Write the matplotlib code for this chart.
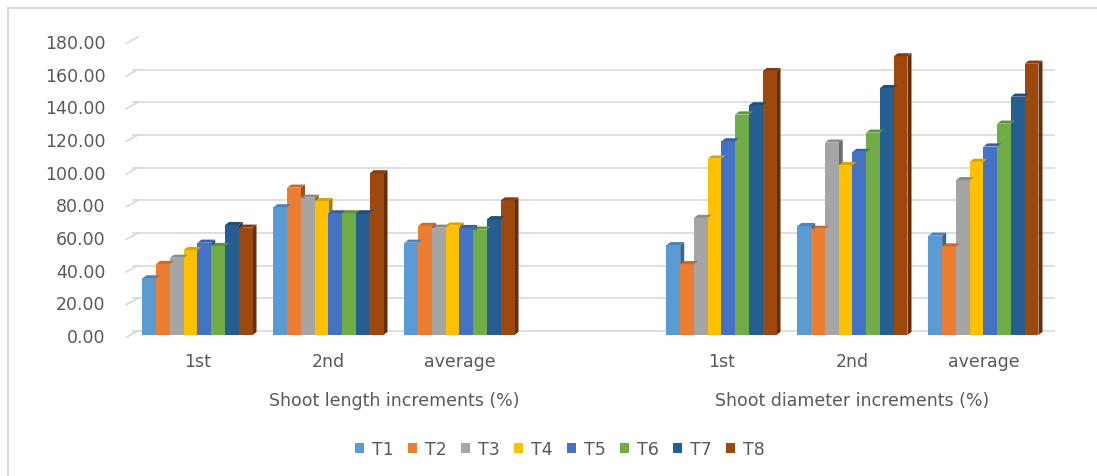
import matplotlib.pyplot as plt
import matplotlib.transforms as mtransforms
from matplotlib.patches import Polygon, Patch
import numpy as np

plt.rcParams['font.family'] = ['DejaVu Sans']

# categories: two measurement groups, with an empty slot after the first one
categories = ['1st', '2nd', 'average', '', '1st', '2nd', 'average']
group_titles = ['Shoot length increments (%)', 'Shoot diameter increments (%)']
treatments = ['T1', 'T2', 'T3', 'T4', 'T5', 'T6', 'T7', 'T8']

# values per treatment, order: length 1st, 2nd, average, diameter 1st, 2nd, average
T1 = [34.7, 78.2, 56.5, 55.0, 66.7, 60.8]
T2 = [43.5, 90.2, 66.8, 43.4, 65.0, 54.2]
T3 = [47.3, 84.1, 65.7, 71.7, 117.8, 94.8]
T4 = [52.0, 82.0, 67.0, 108.0, 104.0, 106.0]
T5 = [56.5, 74.5, 65.5, 118.6, 112.1, 115.4]
T6 = [54.5, 74.5, 64.5, 135.0, 123.9, 129.4]
T7 = [67.3, 74.5, 70.9, 140.6, 151.2, 145.9]
T8 = [65.7, 99.0, 82.4, 161.6, 170.6, 166.1]
series = [T1, T2, T3, T4, T5, T6, T7, T8]

colors = ['#5B9BD5', '#ED7D31', '#A5A5A5', '#FFC000',
          '#4472C4', '#70AD47', '#255E91', '#9E480E']
slots = [0, 1, 2, 4, 5, 6]
text_color = '#595959'
grid_color = '#D9D9D9'


def darker(c, f=0.7):
    r, g, b = plt.matplotlib.colors.to_rgb(c)
    return (r * f, g * f, b * f)


W, H = 1097, 477
fig = plt.figure(figsize=(W / 100, H / 100), dpi=100)
fig.patch.set_facecolor('white')
ax = fig.add_axes([132 / W, 1 - 336 / H, (1055 - 132) / W, (336 - 42) / H])
ax.set_xlim(-0.5, 6.546)
ax.set_ylim(0, 180)
for s in ax.spines.values():
    s.set_visible(False)

# gridlines with the little 3-D slant at the left wall
yticks = np.arange(0, 181, 20)
trans = mtransforms.blended_transform_factory(fig.transFigure, ax.transData)
for y in yticks:
    ax.axhline(y + 2.5, color=grid_color, lw=1.2, zorder=0)
    ax.plot([126 / W, 138 / W], [y - 1.5, y + 2.5], color=grid_color, lw=1.2,
            transform=trans, clip_on=False, zorder=0)

bw = 0.105
dx, dy = 4 / 131, 1.9
n = len(series)
for i, (vals, c) in enumerate(zip(series, colors)):
    xs = np.array(slots) + (i - (n - 1) / 2) * bw
    ax.bar(xs, vals, width=bw, color=c, zorder=3, linewidth=0)
    for x, v in zip(xs, vals):
        r = x + bw / 2
        side = Polygon([[r, 0], [r + dx, dy], [r + dx, v + dy], [r, v]],
                       closed=True, facecolor=darker(c, 0.65), lw=0, zorder=2)
        top = Polygon([[r - bw, v], [r - bw + dx, v + dy], [r + dx, v + dy], [r, v]],
                      closed=True, facecolor=darker(c, 0.85), lw=0, zorder=4)
        ax.add_patch(side)
        ax.add_patch(top)

ax.set_yticks(yticks)
ax.set_yticklabels([f'{v:.2f}' for v in yticks], color=text_color, fontsize=12.5)
ax.tick_params(axis='y', length=0, pad=19)
ax.set_xticks(range(len(categories)))
ax.set_xticklabels(categories, color=text_color, fontsize=12.5)
ax.tick_params(axis='x', length=0, pad=12)

for xc, t in zip([1.5, 5.0], group_titles):
    ax.text(xc, -40, t, ha='center', va='center', color=text_color, fontsize=12.5)

handles = [Patch(facecolor=c, label=t) for t, c in zip(treatments, colors)]
fig.legend(handles=handles, loc='center', bbox_to_anchor=(560 / W, 1 - 450 / H),
           ncol=8, frameon=False, fontsize=12.5, labelcolor=text_color,
           handlelength=0.5, handleheight=0.5, handletextpad=0.45, columnspacing=0.85)

# chart frame (only top and left edges visible in the crop)
fig.add_artist(plt.Line2D([8 / W, 1], [1 - 9 / H, 1 - 9 / H], color=grid_color, lw=1.5))
fig.add_artist(plt.Line2D([8 / W, 8 / W], [0, 1 - 9 / H], color=grid_color, lw=1.5))

fig.savefig('out.png', dpi=100, facecolor='white')
